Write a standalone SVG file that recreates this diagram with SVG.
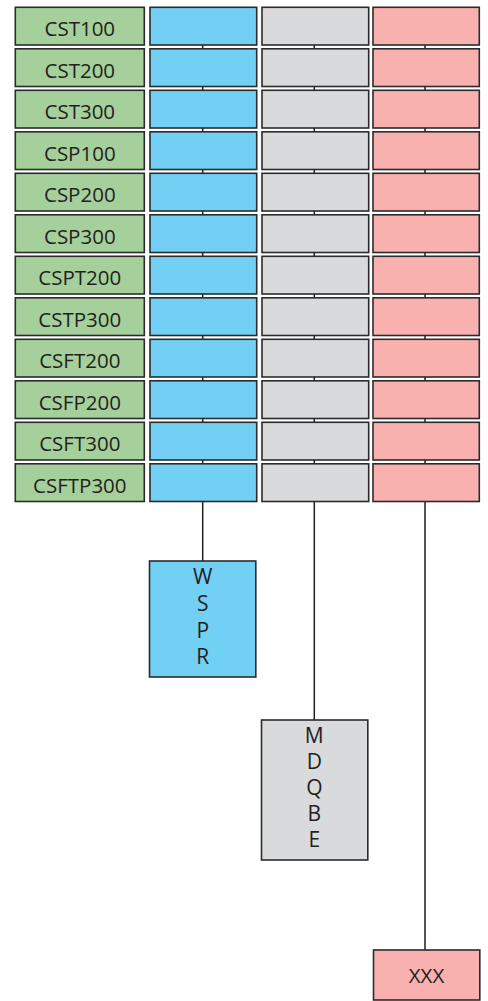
<svg xmlns="http://www.w3.org/2000/svg" width="488" height="1001" viewBox="0 0 488 1001">
<style>
rect{stroke:#2b2b2b;stroke-width:1.6}
.g{fill:#a5d09b}.b{fill:#72d0f5}.y{fill:#d9dadb}.p{fill:#f8b1af}
text{font-family:"Open Sans","Liberation Sans",sans-serif;font-size:20.5px;fill:#231f20;text-anchor:middle}
.l{font-size:21px}
.c{stroke:#231f20;stroke-width:1.5;fill:none}
.cp{stroke:#555;stroke-width:2;fill:none}
</style>
<g id="connectors">
<line class="c" x1="202.7" y1="45" x2="202.7" y2="561"/>
<line class="c" x1="314.3" y1="45" x2="314.3" y2="720"/>
<line class="cp" x1="425" y1="45" x2="425" y2="950"/>
</g>
<g id="r1"><rect class="g" x="15.3" y="7.3" width="129" height="37.7"/><text x="79.8" y="36">CST100</text><rect class="b" x="150" y="7.3" width="106.7" height="37.7"/><rect class="y" x="262" y="7.3" width="106.7" height="37.7"/><rect class="p" x="373" y="7.3" width="106.3" height="37.7"/></g>
<g id="r2"><rect class="g" x="15.3" y="48.8" width="129" height="37.7"/><text x="79.8" y="77.5">CST200</text><rect class="b" x="150" y="48.8" width="106.7" height="37.7"/><rect class="y" x="262" y="48.8" width="106.7" height="37.7"/><rect class="p" x="373" y="48.8" width="106.3" height="37.7"/></g>
<g id="r3"><rect class="g" x="15.3" y="90.3" width="129" height="37.7"/><text x="79.8" y="119">CST300</text><rect class="b" x="150" y="90.3" width="106.7" height="37.7"/><rect class="y" x="262" y="90.3" width="106.7" height="37.7"/><rect class="p" x="373" y="90.3" width="106.3" height="37.7"/></g>
<g id="r4"><rect class="g" x="15.3" y="131.8" width="129" height="37.7"/><text x="79.8" y="160.5">CSP100</text><rect class="b" x="150" y="131.8" width="106.7" height="37.7"/><rect class="y" x="262" y="131.8" width="106.7" height="37.7"/><rect class="p" x="373" y="131.8" width="106.3" height="37.7"/></g>
<g id="r5"><rect class="g" x="15.3" y="173.3" width="129" height="37.7"/><text x="79.8" y="202">CSP200</text><rect class="b" x="150" y="173.3" width="106.7" height="37.7"/><rect class="y" x="262" y="173.3" width="106.7" height="37.7"/><rect class="p" x="373" y="173.3" width="106.3" height="37.7"/></g>
<g id="r6"><rect class="g" x="15.3" y="214.8" width="129" height="37.7"/><text x="79.8" y="243.5">CSP300</text><rect class="b" x="150" y="214.8" width="106.7" height="37.7"/><rect class="y" x="262" y="214.8" width="106.7" height="37.7"/><rect class="p" x="373" y="214.8" width="106.3" height="37.7"/></g>
<g id="r7"><rect class="g" x="15.3" y="256.3" width="129" height="37.7"/><text x="79.8" y="285">CSPT200</text><rect class="b" x="150" y="256.3" width="106.7" height="37.7"/><rect class="y" x="262" y="256.3" width="106.7" height="37.7"/><rect class="p" x="373" y="256.3" width="106.3" height="37.7"/></g>
<g id="r8"><rect class="g" x="15.3" y="297.8" width="129" height="37.7"/><text x="79.8" y="326.5">CSTP300</text><rect class="b" x="150" y="297.8" width="106.7" height="37.7"/><rect class="y" x="262" y="297.8" width="106.7" height="37.7"/><rect class="p" x="373" y="297.8" width="106.3" height="37.7"/></g>
<g id="r9"><rect class="g" x="15.3" y="339.3" width="129" height="37.7"/><text x="79.8" y="368">CSFT200</text><rect class="b" x="150" y="339.3" width="106.7" height="37.7"/><rect class="y" x="262" y="339.3" width="106.7" height="37.7"/><rect class="p" x="373" y="339.3" width="106.3" height="37.7"/></g>
<g id="r10"><rect class="g" x="15.3" y="380.8" width="129" height="37.7"/><text x="79.8" y="409.5">CSFP200</text><rect class="b" x="150" y="380.8" width="106.7" height="37.7"/><rect class="y" x="262" y="380.8" width="106.7" height="37.7"/><rect class="p" x="373" y="380.8" width="106.3" height="37.7"/></g>
<g id="r11"><rect class="g" x="15.3" y="422.3" width="129" height="37.7"/><text x="79.8" y="451">CSFT300</text><rect class="b" x="150" y="422.3" width="106.7" height="37.7"/><rect class="y" x="262" y="422.3" width="106.7" height="37.7"/><rect class="p" x="373" y="422.3" width="106.3" height="37.7"/></g>
<g id="r12"><rect class="g" x="15.3" y="463.8" width="129" height="37.7"/><text x="79.8" y="492.5">CSFTP300</text><rect class="b" x="150" y="463.8" width="106.7" height="37.7"/><rect class="y" x="262" y="463.8" width="106.7" height="37.7"/><rect class="p" x="373" y="463.8" width="106.3" height="37.7"/></g>
<g id="wspr"><rect class="b" x="149.5" y="561" width="106.3" height="116"/><text class="l" x="202.7" y="584">W</text><text class="l" x="202.7" y="611">S</text><text class="l" x="202.7" y="637.5">P</text><text class="l" x="202.7" y="664">R</text></g>
<g id="mdqbe"><rect class="y" x="261.5" y="720" width="106.3" height="140"/><text class="l" x="314.3" y="743">M</text><text class="l" x="314.3" y="768.5">D</text><text class="l" x="314.3" y="794.5">Q</text><text class="l" x="314.3" y="821">B</text><text class="l" x="314.3" y="847">E</text></g>
<g id="xxx"><rect class="p" x="373.5" y="950" width="106.3" height="50"/><text x="426.5" y="983">XXX</text></g>
</svg>
